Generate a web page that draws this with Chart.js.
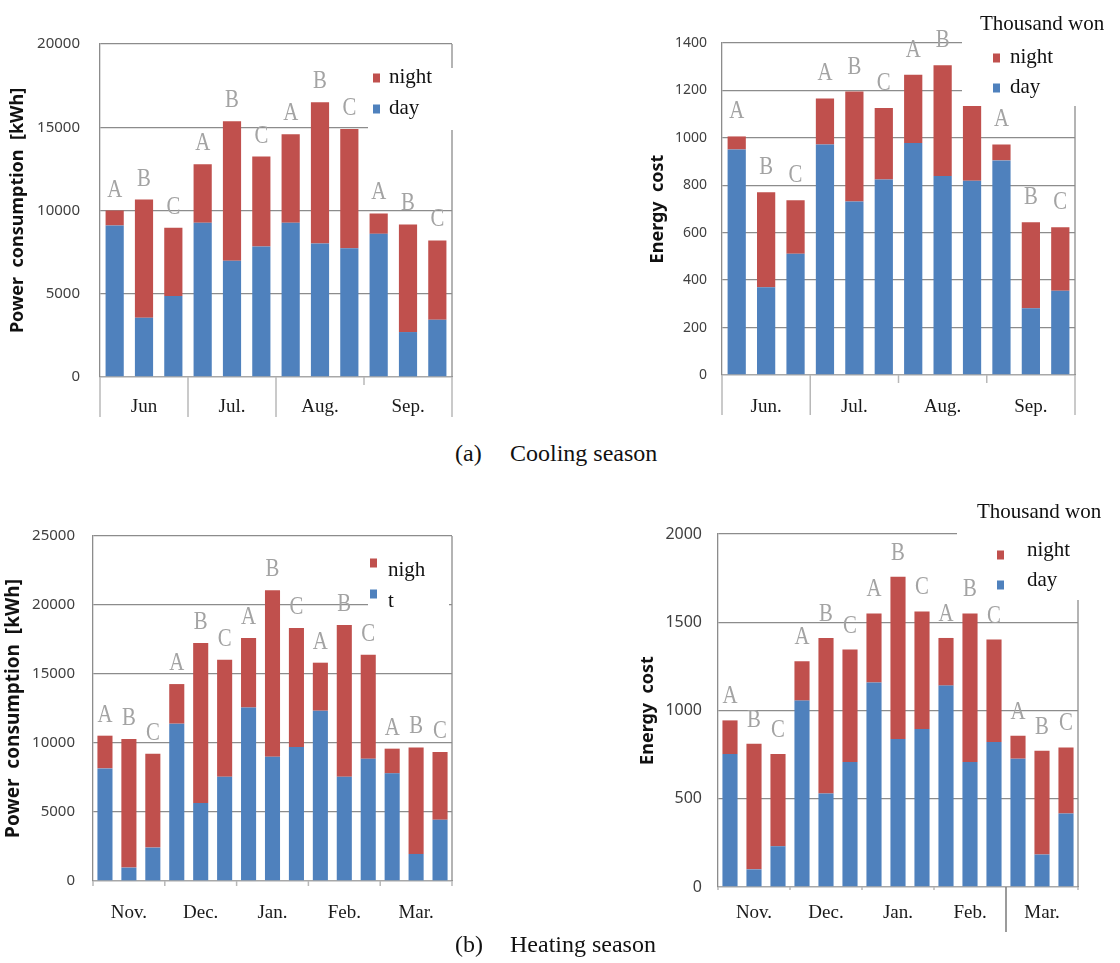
<!DOCTYPE html>
<html>
<head>
<meta charset="utf-8">
<script src="https://cdn.jsdelivr.net/npm/chart.js@4.4.1/dist/chart.umd.min.js"></script>
<style>
  body { margin: 0; background: #fff; }
  #page { position: relative; width: 1120px; height: 963px; overflow: hidden; background: #fff; }
  #page canvas { position: absolute; }
  .cap { position: absolute; font-family: "Liberation Serif", serif; font-size: 24px; line-height: 28px; color: #111; white-space: pre; }
  .warm { position: absolute; left: -500px; top: 0; }
</style>
</head>
<body>
<div id="page">
  <canvas id="coolKwh"  width="460" height="425" style="left:0;top:0"></canvas>
  <canvas id="coolCost" width="490" height="425" style="left:630px;top:0"></canvas>
  <canvas id="heatKwh"  width="470" height="435" style="left:0;top:500px"></canvas>
  <canvas id="heatCost" width="490" height="445" style="left:630px;top:495px"></canvas>

  <div class="cap" style="left:455px;top:439px">(a)</div>
  <div class="cap" style="left:510px;top:439px">Cooling season</div>
  <div class="cap" style="left:455px;top:930px">(b)</div>
  <div class="cap" style="left:510px;top:930px">Heating season</div>
</div>
<span class="warm" style="font-family:'Noto Sans';font-weight:bold">x</span>
<span class="warm" style="font-family:'Noto Sans'">x</span>

<script>
// ---- data ----
const coolLetters = ['A','B','C','A','B','C','A','B','C','A','B','C'];
const coolMonthsKwh  = ['Jun', 'Jul.', 'Aug.', 'Sep.'];
const coolMonthsCost = ['Jun.', 'Jul.', 'Aug.', 'Sep.'];
const coolKwhDay    = [9100, 3560, 4860, 9260, 6980, 7840, 9260, 8020, 7740, 8600, 2700, 3440];
const coolKwhNight  = [ 900, 7100, 4100, 3520, 8380, 5400, 5320, 8480, 7160, 1220, 6460, 4760];
const coolCostDay   = [951, 370, 511, 972, 732, 824, 978, 839, 819, 905, 281, 355];
const coolCostNight = [ 55, 401, 226, 194, 463, 302, 288, 467, 387,  67, 363, 268];

const heatLetters = ['A','B','C','A','B','C','A','B','C','A','B','C','A','B','C'];
const heatMonths  = ['Nov.', 'Dec.', 'Jan.', 'Feb.', 'Mar.'];
const heatKwhDay    = [8160,  970, 2420, 11400,  5650, 7560, 12580,  9010, 9710, 12340,  7560, 8860, 7800, 1960, 4440];
const heatKwhNight  = [2370, 9320, 6810,  2870, 11590, 8480,  5020, 12050, 8620,  3480, 10990, 7540, 1790, 7720, 4910];
const heatCostDay   = [753, 100, 231, 1056, 530, 708, 1158, 838, 895, 1141, 708, 821, 727, 184, 416];
const heatCostNight = [191, 712, 522,  223, 881, 637,  392, 920, 666,  270, 842, 581, 130, 588, 375];

const BLUE = '#4F81BD';
const RED = '#C0504D';
const GRID = '#8c8c8c';
const SERIF = '"Liberation Serif", "Times New Roman", serif';
const SANS = '"Noto Sans", sans-serif';

// frame, A/B/C letters, month separators and the white-backed legend
const decor = {
  id: 'decor',
  afterDatasetsDraw(chart, args, o) {
    const { ctx, chartArea: a, scales: { x } } = chart;
    const n = chart.data.labels.length;
    const step = (a.right - a.left) / n;
    ctx.save();

    // right side of the frame
    ctx.strokeStyle = GRID;
    ctx.lineWidth = 1.3;
    ctx.beginPath();
    ctx.moveTo(a.right, a.top);
    ctx.lineTo(a.right, a.bottom);
    ctx.stroke();

    // group letters above each stacked bar
    const top = chart.getDatasetMeta(chart.data.datasets.length - 1);
    ctx.fillStyle = '#a3a3a3';
    ctx.font = 'normal 26px ' + SERIF;
    ctx.textAlign = 'center';
    ctx.textBaseline = 'alphabetic';
    top.data.forEach((bar, i) => {
      ctx.save();
      ctx.translate(bar.x, bar.y - o.letterGap);
      ctx.scale(0.8, 1);
      ctx.fillText(chart.data.labels[i], 0, 0);
      ctx.restore();
    });

    // month separators under the axis
    o.seps.forEach(([idx, len, color]) => {
      const px = idx >= n ? a.right : x.getPixelForValue(idx) - step / 2;
      ctx.strokeStyle = color || '#b8b8b8';
      ctx.lineWidth = 1.5;
      ctx.beginPath();
      ctx.moveTo(px, a.bottom);
      ctx.lineTo(px, a.bottom + len);
      ctx.stroke();
    });

    // legend background
    ctx.fillStyle = '#fff';
    o.covers.forEach(r => ctx.fillRect(r[0], r[1], r[2], r[3]));

    ctx.fillStyle = '#111';
    ctx.font = 'normal 21px ' + SERIF;
    ctx.textAlign = 'left';
    ctx.textBaseline = 'middle';
    if (o.unit) ctx.fillText(o.unit.text, o.unit.x, o.unit.y);

    // legend entries: night first, day second
    const ds = chart.data.datasets;
    [ds[1], ds[0]].forEach((d, k) => {
      const y = o.legend.y + k * o.legend.row;
      ctx.fillStyle = d.backgroundColor;
      ctx.fillRect(o.legend.x, y - 4.5, 7, 9);
      ctx.fillStyle = '#111';
      ctx.fillText(o.legend.names[k], o.legend.tx, y + o.legend.dy);
    });

    ctx.restore();
  }
};

function makeChart(id, c) {
  return new Chart(document.getElementById(id), {
    type: 'bar',
    data: {
      labels: c.letters,
      datasets: [
        { label: 'day', data: c.day, backgroundColor: BLUE },
        { label: 'night', data: c.night, backgroundColor: RED }
      ]
    },
    options: {
      responsive: false,
      animation: false,
      layout: { padding: { top: c.padTop, right: c.padRight, left: 0, bottom: 0 } },
      datasets: { bar: { barPercentage: c.barPct, categoryPercentage: 1 } },
      scales: {
        x: {
          stacked: true,
          grid: { display: false, drawTicks: false },
          border: { color: '#a8a8a8', width: 1.3 },
          ticks: {
            autoSkip: false, maxRotation: 0, padding: c.xPad,
            font: { family: SERIF, size: 19 }, color: '#1a1a1a',
            callback: (v, i) => (i % 3 === 1 ? c.months[(i - 1) / 3] : '')
          },
          afterFit: s => { s.height = c.xH; }
        },
        y: {
          stacked: true, min: 0, max: c.max,
          ticks: {
            stepSize: c.step, padding: c.yPad, color: '#404040',
            font: { family: SANS, size: c.tickSize },
            callback: v => String(v)
          },
          grid: { color: GRID, lineWidth: 1.3, drawTicks: false },
          border: { color: GRID, width: 1.3 },
          title: {
            display: true, text: c.title, color: '#111',
            font: { family: SANS, size: c.titleSize, weight: 'bold' },
            padding: { top: c.titlePad, bottom: 0 }
          },
          afterFit: s => { s.width = c.yW; }
        }
      },
      plugins: { legend: { display: false }, tooltip: { enabled: false }, decor: c.decor }
    },
    plugins: [decor]
  });
}

const charts = [];

function drawAll() {
  charts.push(makeChart('coolKwh', {
    letters: coolLetters, months: coolMonthsKwh, day: coolKwhDay, night: coolKwhNight,
    max: 20000, step: 5000, tickSize: 15, title: 'Power  consumption  [kWh]', titleSize: 18, titlePad: 7,
    yW: 100, yPad: 20, xH: 48, xPad: 19, padTop: 44, padRight: 8, barPct: 0.62,
    decor: {
      letterGap: 14,
      seps: [[0, 40], [3, 40], [6, 40], [9, 8], [12, 40]],
      covers: [[368, 68, 92, 62]],
      legend: { x: 373, tx: 389, y: 78, row: 31, dy: -1, names: ['night', 'day'] }
    }
  }));

  charts.push(makeChart('coolCost', {
    letters: coolLetters, months: coolMonthsCost, day: coolCostDay, night: coolCostNight,
    max: 1400, step: 200, tickSize: 14, title: 'Energy  cost', titleSize: 18, titlePad: 17,
    yW: 92, yPad: 15, xH: 50, xPad: 21, padTop: 43, padRight: 45, barPct: 0.62,
    decor: {
      letterGap: 18,
      seps: [[0, 40], [3, 40], [6, 8], [9, 8], [12, 40]],
      covers: [[332, 30, 158, 76]],
      unit: { text: 'Thousand won', x: 350, y: 24 },
      legend: { x: 363, tx: 380, y: 58, row: 30, dy: -1, names: ['night', 'day'] }
    }
  }));

  charts.push(makeChart('heatKwh', {
    letters: heatLetters, months: heatMonths, day: heatKwhDay, night: heatKwhNight,
    max: 25000, step: 5000, tickSize: 15, title: 'Power  consumption  [kWh]', titleSize: 19, titlePad: 2,
    yW: 93, yPad: 18, xH: 54, xPad: 21, padTop: 36, padRight: 18, barPct: 0.63,
    decor: {
      letterGap: 14,
      seps: [[0, 5], [3, 5], [6, 5], [9, 5], [12, 5], [15, 5]],
      covers: [[368, 45, 81, 67]],
      legend: { x: 370, tx: 388, y: 63, row: 31, dy: 7, names: ['nigh', 't'] }
    }
  }));

  charts.push(makeChart('heatCost', {
    letters: heatLetters, months: heatMonths, day: heatCostDay, night: heatCostNight,
    max: 2000, step: 500, tickSize: 16, title: 'Energy  cost', titleSize: 18, titlePad: 7,
    yW: 88, yPad: 16, xH: 53, xPad: 15, padTop: 39, padRight: 42, barPct: 0.63,
    decor: {
      letterGap: 17,
      seps: [[0, 3], [3, 3], [6, 3], [9, 3], [15, 3], [12, 45, '#7a7a7a']],
      covers: [[327, 30, 163, 15], [355, 45, 135, 60]],
      unit: { text: 'Thousand won', x: 347, y: 17 },
      legend: { x: 367, tx: 397, y: 60, row: 30, dy: -5, names: ['night', 'day'] }
    }
  }));

  // repaint once the system fonts are surely resolved
  setTimeout(() => charts.forEach(ch => ch.update('none')), 150);
}

void document.body.offsetHeight; // force layout so the serif face is in use
drawAll();
</script>
</body>
</html>
